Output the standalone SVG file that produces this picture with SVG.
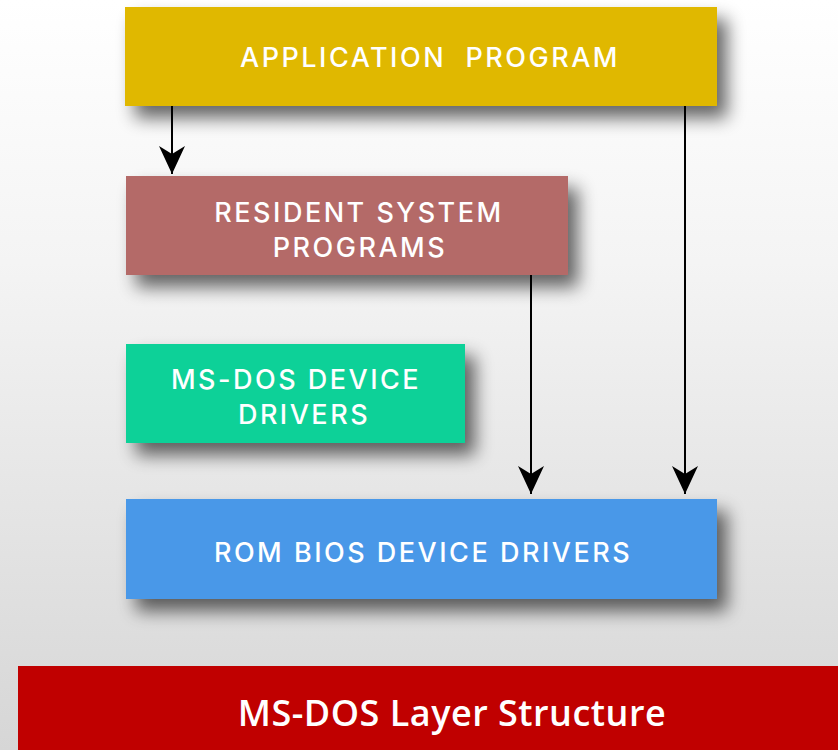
<svg xmlns="http://www.w3.org/2000/svg" width="838" height="750" viewBox="0 0 838 750">
<defs>
<linearGradient id="bg" x1="0" y1="0" x2="0" y2="1">
<stop offset="0" stop-color="#ffffff"/>
<stop offset="0.35" stop-color="#f4f4f4"/>
<stop offset="1" stop-color="#d6d6d6"/>
</linearGradient>
<filter id="sh" x="-10%" y="-25%" width="130%" height="170%">
<feGaussianBlur in="SourceAlpha" stdDeviation="9"/>
<feOffset dx="10" dy="12" result="b"/>
<feComponentTransfer><feFuncA type="linear" slope="0.6"/></feComponentTransfer>
<feMerge><feMergeNode/><feMergeNode in="SourceGraphic"/></feMerge>
</filter>
<marker id="ah" viewBox="0 0 28 26" refX="28" refY="13" markerWidth="28" markerHeight="26" markerUnits="userSpaceOnUse" orient="auto">
<path d="M0,0 L28,13 L0,26 L8,13 z" fill="#000"/>
</marker>
<style>
.lbl{font-family:Inter,"Open Sans","Liberation Sans",sans-serif;font-size:27px;font-weight:500;fill:#fff;text-anchor:middle;letter-spacing:2.5px;white-space:pre}
.ttl{font-family:"Open Sans","Liberation Sans",sans-serif;font-size:36px;font-weight:600;fill:#fff;text-anchor:middle;letter-spacing:0.5px}
.conn{stroke:#000;stroke-width:2;fill:none}
</style>
</defs>
<rect width="838" height="750" fill="url(#bg)"/>
<g id="application-program">
<rect x="125" y="7" width="592" height="99" fill="#E0B800" filter="url(#sh)"/>
<text class="lbl" x="430" y="67" xml:space="preserve">APPLICATION  PROGRAM</text>
</g>
<g id="resident-system-programs">
<rect x="126" y="176" width="442" height="99" fill="#B46A68" filter="url(#sh)"/>
<text class="lbl" x="359" y="222">RESIDENT SYSTEM</text>
<text class="lbl" x="360" y="257">PROGRAMS</text>
</g>
<g id="ms-dos-device-drivers">
<rect x="126" y="344" width="339" height="99" fill="#10D198" filter="url(#sh)"/>
<text class="lbl" x="296" y="389">MS-DOS DEVICE</text>
<text class="lbl" x="304" y="424">DRIVERS</text>
</g>
<g id="rom-bios-device-drivers">
<rect x="126" y="499" width="591" height="100" fill="#4898E8" filter="url(#sh)"/>
<text class="lbl" x="423" y="562">ROM BIOS DEVICE DRIVERS</text>
</g>
<g id="title">
<rect x="18" y="666" width="820" height="84" fill="#C00000"/>
<text class="ttl" x="452" y="726">MS-DOS Layer Structure</text>
</g>
<g id="connectors">
<line class="conn" x1="172" y1="106" x2="172" y2="174" marker-end="url(#ah)"/>
<line class="conn" x1="531" y1="275" x2="531" y2="494" marker-end="url(#ah)"/>
<line class="conn" x1="685" y1="106" x2="685" y2="494" marker-end="url(#ah)"/>
</g>
</svg>
